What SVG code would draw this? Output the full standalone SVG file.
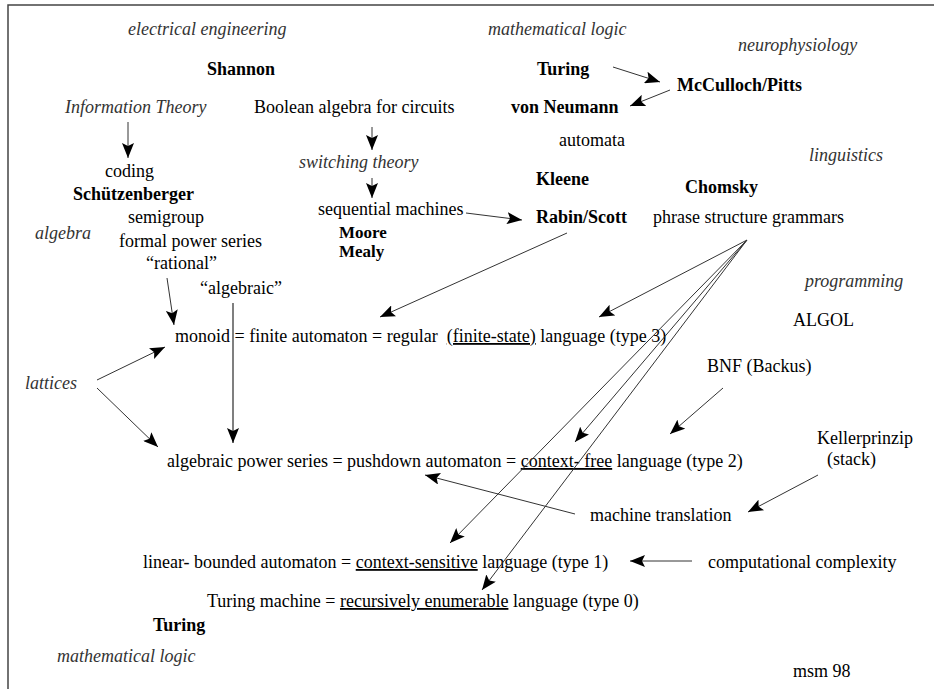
<svg xmlns="http://www.w3.org/2000/svg" width="934" height="689" viewBox="0 0 934 689">
<style>
text{font-family:"Liberation Serif","Times New Roman",serif;font-size:18px;fill:#000;white-space:pre}
.i{font-style:italic;fill:#333}
.b{font-weight:bold}
.s{font-size:17px}
.u{text-decoration:underline}
.c line{stroke:#333;stroke-width:1;marker-end:url(#ah)}
.frame{stroke:#444;stroke-width:1.5;fill:none}
</style>
<defs>
<marker id="ah" markerUnits="userSpaceOnUse" markerWidth="16" markerHeight="12" refX="15" refY="6" orient="auto">
<path d="M0,0 L15,6 L0,12 L3,6 Z" fill="#000"/>
</marker>
</defs>
<rect width="934" height="689" fill="#fff"/>
<polyline class="frame" points="8,689 8,5 934,5"/>

<g id="n-ee"><text class="i" x="128" y="35">electrical engineering</text></g>
<g id="n-mathlogic-top"><text class="i" x="488" y="35">mathematical logic</text></g>
<g id="n-neuro"><text class="i" x="738" y="51">neurophysiology</text></g>
<g id="n-shannon"><text class="b" x="207" y="75">Shannon</text></g>
<g id="n-turing-top"><text class="b" x="537" y="75">Turing</text></g>
<g id="n-mcculloch"><text class="b" x="677" y="91">McCulloch/Pitts</text></g>
<g id="n-infotheory"><text class="i" x="65" y="113">Information Theory</text></g>
<g id="n-boolean"><text x="254" y="113">Boolean algebra for circuits</text></g>
<g id="n-vonneumann"><text class="b" x="511" y="113">von Neumann</text></g>
<g id="n-automata"><text x="559" y="146">automata</text></g>
<g id="n-linguistics"><text class="i" x="809" y="161">linguistics</text></g>
<g id="n-switching"><text class="i" x="299" y="168">switching theory</text></g>
<g id="n-coding"><text x="105" y="177">coding</text></g>
<g id="n-kleene"><text class="b" x="536" y="185">Kleene</text></g>
<g id="n-chomsky"><text class="b" x="685" y="193">Chomsky</text></g>
<g id="n-schutz"><text class="b" x="73" y="200">Schützenberger</text></g>
<g id="n-sequential"><text x="318" y="215">sequential machines</text></g>
<g id="n-rabin"><text class="b" x="536" y="223">Rabin/Scott</text></g>
<g id="n-phrase"><text x="653" y="223">phrase structure grammars</text></g>
<g id="n-semigroup"><text x="128" y="223">semigroup</text></g>
<g id="n-algebra"><text class="i" x="35" y="239">algebra</text></g>
<g id="n-moore"><text class="b s" x="339" y="238">Moore</text></g>
<g id="n-fps"><text x="119" y="247">formal power series</text></g>
<g id="n-mealy"><text class="b s" x="339" y="257">Mealy</text></g>
<g id="n-rational"><text x="146" y="269">“rational”</text></g>
<g id="n-programming"><text class="i" x="805" y="287">programming</text></g>
<g id="n-algebraic"><text x="200" y="294">“algebraic”</text></g>
<g id="n-algol"><text x="793" y="326">ALGOL</text></g>
<g id="n-type3"><text x="175" y="342">monoid = finite automaton = regular  <tspan class="u">(finite-state)</tspan> language (type 3)</text></g>
<g id="n-bnf"><text x="707" y="372">BNF (Backus)</text></g>
<g id="n-lattices"><text class="i" x="25" y="389">lattices</text></g>
<g id="n-keller"><text x="817" y="444">Kellerprinzip</text><text x="827" y="465">(stack)</text></g>
<g id="n-type2"><text x="167" y="467">algebraic power series = pushdown automaton = <tspan class="u">context- free</tspan> language (type 2)</text></g>
<g id="n-mt"><text x="590" y="521">machine translation</text></g>
<g id="n-type1"><text x="143" y="568">linear- bounded automaton = <tspan class="u">context-sensitive</tspan> language (type 1)</text></g>
<g id="n-complexity"><text x="708" y="568">computational complexity</text></g>
<g id="n-type0"><text x="207" y="607">Turing machine = <tspan class="u">recursively enumerable</tspan> language (type 0)</text></g>
<g id="n-turing-bottom"><text class="b" x="153" y="631">Turing</text></g>
<g id="n-mathlogic-bottom"><text class="i" x="57" y="662">mathematical logic</text></g>
<g id="n-msm"><text x="793" y="677">msm 98</text></g>

<g id="connectors" class="c">
<line x1="128" y1="122" x2="128" y2="158"/>
<line x1="372" y1="127" x2="372" y2="150"/>
<line x1="372" y1="178" x2="372" y2="198"/>
<line x1="466" y1="213" x2="522" y2="220"/>
<line x1="613" y1="67" x2="660" y2="82"/>
<line x1="670" y1="90" x2="630" y2="106"/>
<line x1="567" y1="233" x2="380" y2="317"/>
<line x1="747" y1="240" x2="599" y2="317"/>
<line x1="747" y1="240" x2="575" y2="442"/>
<line x1="747" y1="240" x2="450" y2="543"/>
<line x1="747" y1="240" x2="482" y2="590"/>
<line x1="167" y1="278" x2="174" y2="325"/>
<line x1="233" y1="303" x2="233" y2="443" style="stroke:#555;stroke-width:1.5"/>
<line x1="97" y1="380" x2="165" y2="347"/>
<line x1="97" y1="388" x2="158" y2="447"/>
<line x1="723" y1="388" x2="670" y2="434"/>
<line x1="818" y1="475" x2="748" y2="512"/>
<line x1="575" y1="514" x2="425" y2="475"/>
<line x1="692" y1="561" x2="630" y2="561"/>
</g>
</svg>
